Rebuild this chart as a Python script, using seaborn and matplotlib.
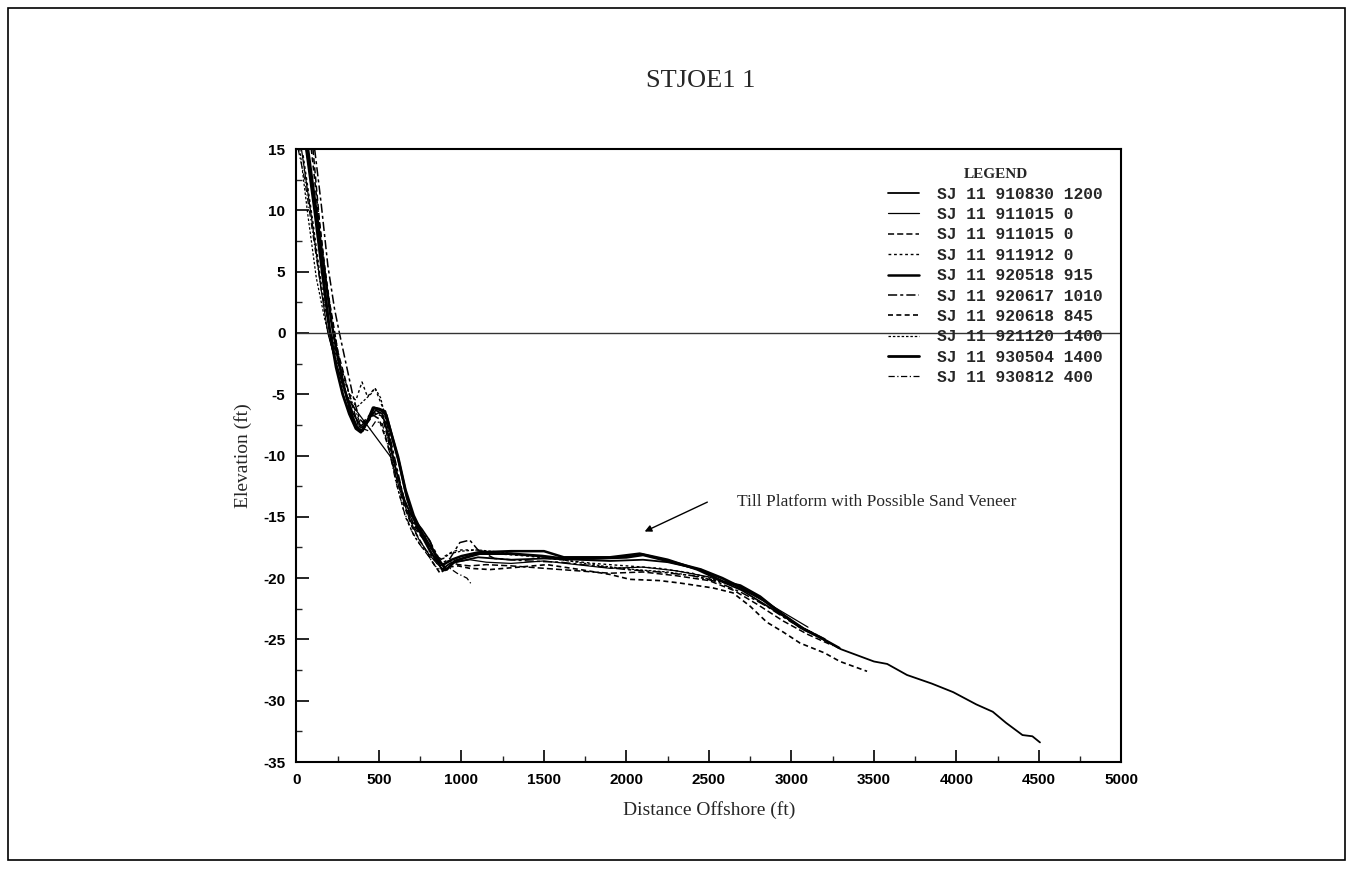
"""
STJOE1 1 beach profile survey overlay (elevation vs distance offshore)
"""
import matplotlib
matplotlib.use("Agg")
import matplotlib.pyplot as plt
from matplotlib.patches import Rectangle
from matplotlib.ticker import MultipleLocator
import seaborn as sns

# survey labels (legend order)
labels = [
    "SJ 11 910830 1200", "SJ 11 911015 0", "SJ 11 911015 0", "SJ 11 911912 0",
    "SJ 11 920518 915", "SJ 11 920617 1010", "SJ 11 920618 845",
    "SJ 11 921120 1400", "SJ 11 930504 1400", "SJ 11 930812 400",
]

# profile data: distance offshore (ft) / elevation (ft)
x_910830 = [60, 110, 160, 200, 240, 290, 340, 390, 440, 480, 520, 560, 600, 650, 700, 760,
            810, 850, 880, 930, 1000, 1100, 1300, 1500, 1700, 1900, 2100, 2250, 2450, 2580,
            2700, 2820, 2940, 3060, 3180, 3300, 3500, 3580, 3700, 3850, 3980, 4120, 4220,
            4300, 4400, 4460, 4506]
y_910830 = [15, 10.5, 5, 0.5, -2.5, -4.5, -6.5, -7.6, -7.0, -6.3, -6.6, -8.5, -11.0, -13.5,
            -15.0, -16.0, -17.0, -18.5, -19.3, -18.8, -18.6, -18.3, -18.5, -18.4, -18.5, -18.6,
            -18.5, -18.7, -19.3, -20.3, -21.0, -22.0, -23.0, -24.0, -24.9, -25.8, -26.8, -27.0,
            -27.9, -28.6, -29.3, -30.3, -30.9, -31.8, -32.8, -32.9, -33.4]

x_911015a = [30, 90, 150, 190, 230, 270, 300, 570, 620, 680, 740, 800, 850, 900, 960, 1050,
             1150, 1300, 1500, 1700, 1900, 2100, 2300, 2500, 2650, 2800, 2950, 3100]
y_911015a = [15, 9.5, 3.5, 0, -2.0, -3.0, -5.2, -10.1, -12.5, -15.0, -16.8, -18.0, -18.8,
             -19.4, -18.7, -18.5, -18.7, -18.8, -18.6, -18.9, -19.2, -19.1, -19.4, -19.9,
             -20.6, -21.6, -22.8, -24.0]

x_911015b = [100, 140, 180, 220, 250, 290, 340, 380, 420, 470, 520, 570, 620, 670, 720, 780,
             830, 870, 920, 980, 1050, 1150, 1300, 1500, 1700, 1900, 2100, 2300, 2500, 2650,
             2800, 2950, 3100, 3250]
y_911015b = [15, 9, 4, 1, -1.5, -3.5, -6.0, -7.8, -7.5, -6.5, -6.8, -9.5, -12.0, -14.3, -16.0,
             -17.0, -18.3, -19.0, -18.6, -18.9, -19.0, -18.9, -19.0, -19.2, -19.4, -19.6, -19.5,
             -19.8, -20.2, -21.0, -22.2, -23.5, -24.6, -25.5]

x_911912 = [40, 100, 150, 200, 240, 280, 320, 360, 397, 430, 476, 520, 560, 610, 660, 710,
            760, 810, 850, 900, 950, 1000, 1100, 1200, 1400, 1600, 1800, 2000, 2200, 2400, 2550]
y_911912 = [14.5, 9, 4, 0.2, -1.8, -3.5, -5.0, -5.5, -4.0, -5.2, -4.5, -6.0, -9.0, -12.5,
            -15.0, -16.5, -17.5, -18.0, -18.8, -18.2, -17.8, -17.7, -17.7, -18.0, -18.2, -18.5,
            -18.8, -19.0, -19.2, -19.6, -20.2]

x_920518 = [70, 120, 170, 210, 250, 290, 330, 370, 400, 440, 470, 510, 545, 580, 620, 670,
            720, 770, 810, 850, 890, 940, 1000, 1100, 1300, 1500, 1620, 1720, 1900, 2080, 2250,
            2430, 2590, 2690, 2810, 2930, 3050, 3170, 3290]
y_920518 = [15, 10, 5, 1.0, -2.0, -4.5, -6.5, -7.8, -8.0, -7.0, -6.1, -6.3, -6.7, -8.5,
            -10.5, -13.5, -15.5, -16.8, -17.8, -18.6, -18.9, -18.5, -18.2, -17.9, -17.8, -17.8,
            -18.3, -18.3, -18.3, -18.0, -18.5, -19.3, -20.3, -20.6, -21.5, -22.8, -24.0, -24.8,
            -25.7]

x_920617 = [110, 150, 190, 230, 260, 300, 340, 380, 420, 460, 500, 550, 600, 650, 700, 750,
            800, 840, 880, 930, 990, 1050, 1100, 1200, 1400, 1600, 1800, 2000, 2200, 2400,
            2550, 2700, 2850, 3000, 3150]
y_920617 = [15, 10.5, 5.5, 2, 0, -2.5, -5, -7, -7.5, -6.8, -6.5, -7.5, -10.5, -13.5, -15.5,
            -16.3, -16.8, -17.8, -18.8, -18.4, -17.1, -16.9, -17.7, -18.4, -18.6, -18.7, -19.0,
            -19.3, -19.5, -19.8, -20.3, -21.2, -22.3, -23.6, -24.6]

x_920618 = [90, 130, 170, 210, 250, 290, 330, 370, 410, 450, 500, 550, 600, 650, 700, 760,
            820, 870, 920, 980, 1050, 1173, 1350, 1518, 1718, 1900, 2021, 2200, 2324, 2524,
            2645, 2750, 2851, 2950, 3052, 3200, 3294, 3458]
y_920618 = [15, 10, 5.5, 1.5, -1.5, -4.5, -6.8, -7.8, -7.2, -6.6, -7.0, -9.0, -11.5, -14.0,
            -15.8, -17.2, -18.6, -19.6, -19.1, -19.0, -19.2, -19.3, -19.1, -18.9, -19.3, -19.7,
            -20.1, -20.2, -20.4, -20.8, -21.2, -22.3, -23.6, -24.4, -25.3, -26.1, -26.8, -27.6]

x_921120 = [20, 70, 120, 170, 210, 250, 290, 330, 370, 410, 450, 476, 510, 550, 590, 640,
            690, 740, 790, 840, 880, 930, 1000, 1100, 1250, 1450, 1650, 1850, 2050, 2250,
            2450, 2600]
y_921120 = [15, 9.5, 4.5, 1.2, -1.0, -3.0, -4.8, -5.6, -6.0, -5.5, -5.0, -4.5, -5.3, -7.5,
            -10.5, -13.0, -15.0, -16.2, -17.2, -18.0, -18.5, -18.0, -17.8, -17.7, -17.9, -18.2,
            -18.6, -19.0, -19.3, -19.5, -19.9, -20.4]

x_930504 = [60, 110, 160, 200, 240, 280, 320, 360, 390, 430, 464, 500, 536, 570, 615, 660,
            710, 760, 800, 840, 870, 910, 960, 1030, 1110, 1290, 1490, 1610, 1800, 2000, 2100,
            2250, 2450, 2580, 2700, 2830, 2950, 3080, 3200]
y_930504 = [15, 10, 4.5, 0.3, -2.8, -5.0, -6.6, -7.8, -8.1, -7.2, -6.1, -6.2, -6.4, -8.0,
            -10.1, -12.8, -14.9, -16.3, -17.2, -18.0, -18.7, -19.3, -18.6, -18.3, -18.0, -18.0,
            -18.2, -18.4, -18.4, -18.3, -18.1, -18.6, -19.3, -20.0, -20.8, -21.8, -23.0, -24.2,
            -25.0]

x_930812 = [10, 50, 100, 150, 200, 240, 280, 320, 360, 400, 440, 480, 520, 560, 600, 650,
            700, 750, 800, 839, 880, 930, 973, 1033, 1060]
y_930812 = [15, 12.5, 8, 3.5, 0.5, -1.5, -3.2, -5.0, -6.5, -7.8, -8.0, -7.2, -7.4, -9.5,
            -12.0, -14.5, -16.2, -17.3, -18.2, -19.0, -19.4, -19.2, -19.6, -20.0, -20.5]

profiles = [
    (x_910830, y_910830, "-", 1.3),
    (x_911015a, y_911015a, "-", 0.9),
    (x_911015b, y_911015b, (0, (4, 2)), 1.1),
    (x_911912, y_911912, (0, (2, 2)), 1.0),
    (x_920518, y_920518, "-", 1.8),
    (x_920617, y_920617, (0, (6, 2, 2, 2)), 1.1),
    (x_920618, y_920618, (0, (3, 2)), 1.2),
    (x_921120, y_921120, (0, (2, 1.5)), 0.9),
    (x_930504, y_930504, "-", 2.0),
    (x_930812, y_930812, (0, (5, 2, 1, 2)), 0.9),
]


def main() -> None:
    sns.set_theme(style="ticks")
    plt.rcParams["font.family"] = ["DejaVu Sans"]
    plt.rcParams["axes.unicode_minus"] = False

    fig = plt.figure(figsize=(13.52, 8.69), dpi=100)
    ax = fig.add_axes([0.2193, 0.1231, 0.6102, 0.7054])

    for (xs, ys, ls, lw), name in zip(profiles, labels):
        sns.lineplot(x=xs, y=ys, ax=ax, color="black", linestyle=ls, lw=lw,
                     label=name, sort=False, estimator=None)

    ax.axhline(0, color="#333333", lw=1.0)
    ax.set_xlim(0, 5000)
    ax.set_ylim(-35, 15)
    ax.xaxis.set_major_locator(MultipleLocator(500))
    ax.xaxis.set_minor_locator(MultipleLocator(250))
    ax.yaxis.set_major_locator(MultipleLocator(5))
    ax.yaxis.set_minor_locator(MultipleLocator(2.5))
    ax.tick_params(which="major", direction="in", length=9, width=1.2, pad=8,
                   colors="black", labelsize=11)
    ax.tick_params(which="minor", direction="in", length=4, width=1.0)
    for lab in ax.get_xticklabels() + ax.get_yticklabels():
        lab.set_fontfamily("Liberation Sans")
        lab.set_fontweight("bold")
    for sp in ax.spines.values():
        sp.set_color("black")
        sp.set_linewidth(1.5)

    ax.set_xlabel("Distance Offshore (ft)", family="Liberation Serif", fontsize=14,
                  labelpad=10)
    ax.set_ylabel("Elevation (ft)", family="Liberation Serif", fontsize=14, labelpad=8)

    leg = ax.legend(title="LEGEND", loc="upper left", bbox_to_anchor=(0.703, 0.987),
                    frameon=False, handlelength=1.9, handletextpad=1.15,
                    labelspacing=0.33, borderpad=0.2,
                    prop={"family": "Liberation Mono", "weight": "bold", "size": 11.7})
    leg.get_title().set_fontweight("bold")
    leg.get_title().set_fontfamily("Liberation Serif")
    leg.get_title().set_fontsize(11)
    for line in leg.get_lines():
        line.set_color("black")

    ax.annotate("", xy=(2110, -16.2), xytext=(2490, -13.8),
                arrowprops=dict(arrowstyle="-|>", color="black", lw=1.0,
                                shrinkA=0, shrinkB=0, mutation_scale=10))
    ax.text(2670, -13.8, "Till Platform with Possible Sand Veneer", va="center",
            ha="left", family="Liberation Serif", fontsize=12.5)

    fig.text(0.518, 0.907, "STJOE1 1", ha="center", va="center",
             family="Liberation Serif", fontsize=19)
    fig.patches.append(Rectangle((0.006, 0.01), 0.989, 0.981, transform=fig.transFigure,
                                 fill=False, edgecolor="black", lw=1.2))

    fig.savefig("out.png", dpi=100, facecolor="white")
    plt.close(fig)


if __name__ == "__main__":
    main()
